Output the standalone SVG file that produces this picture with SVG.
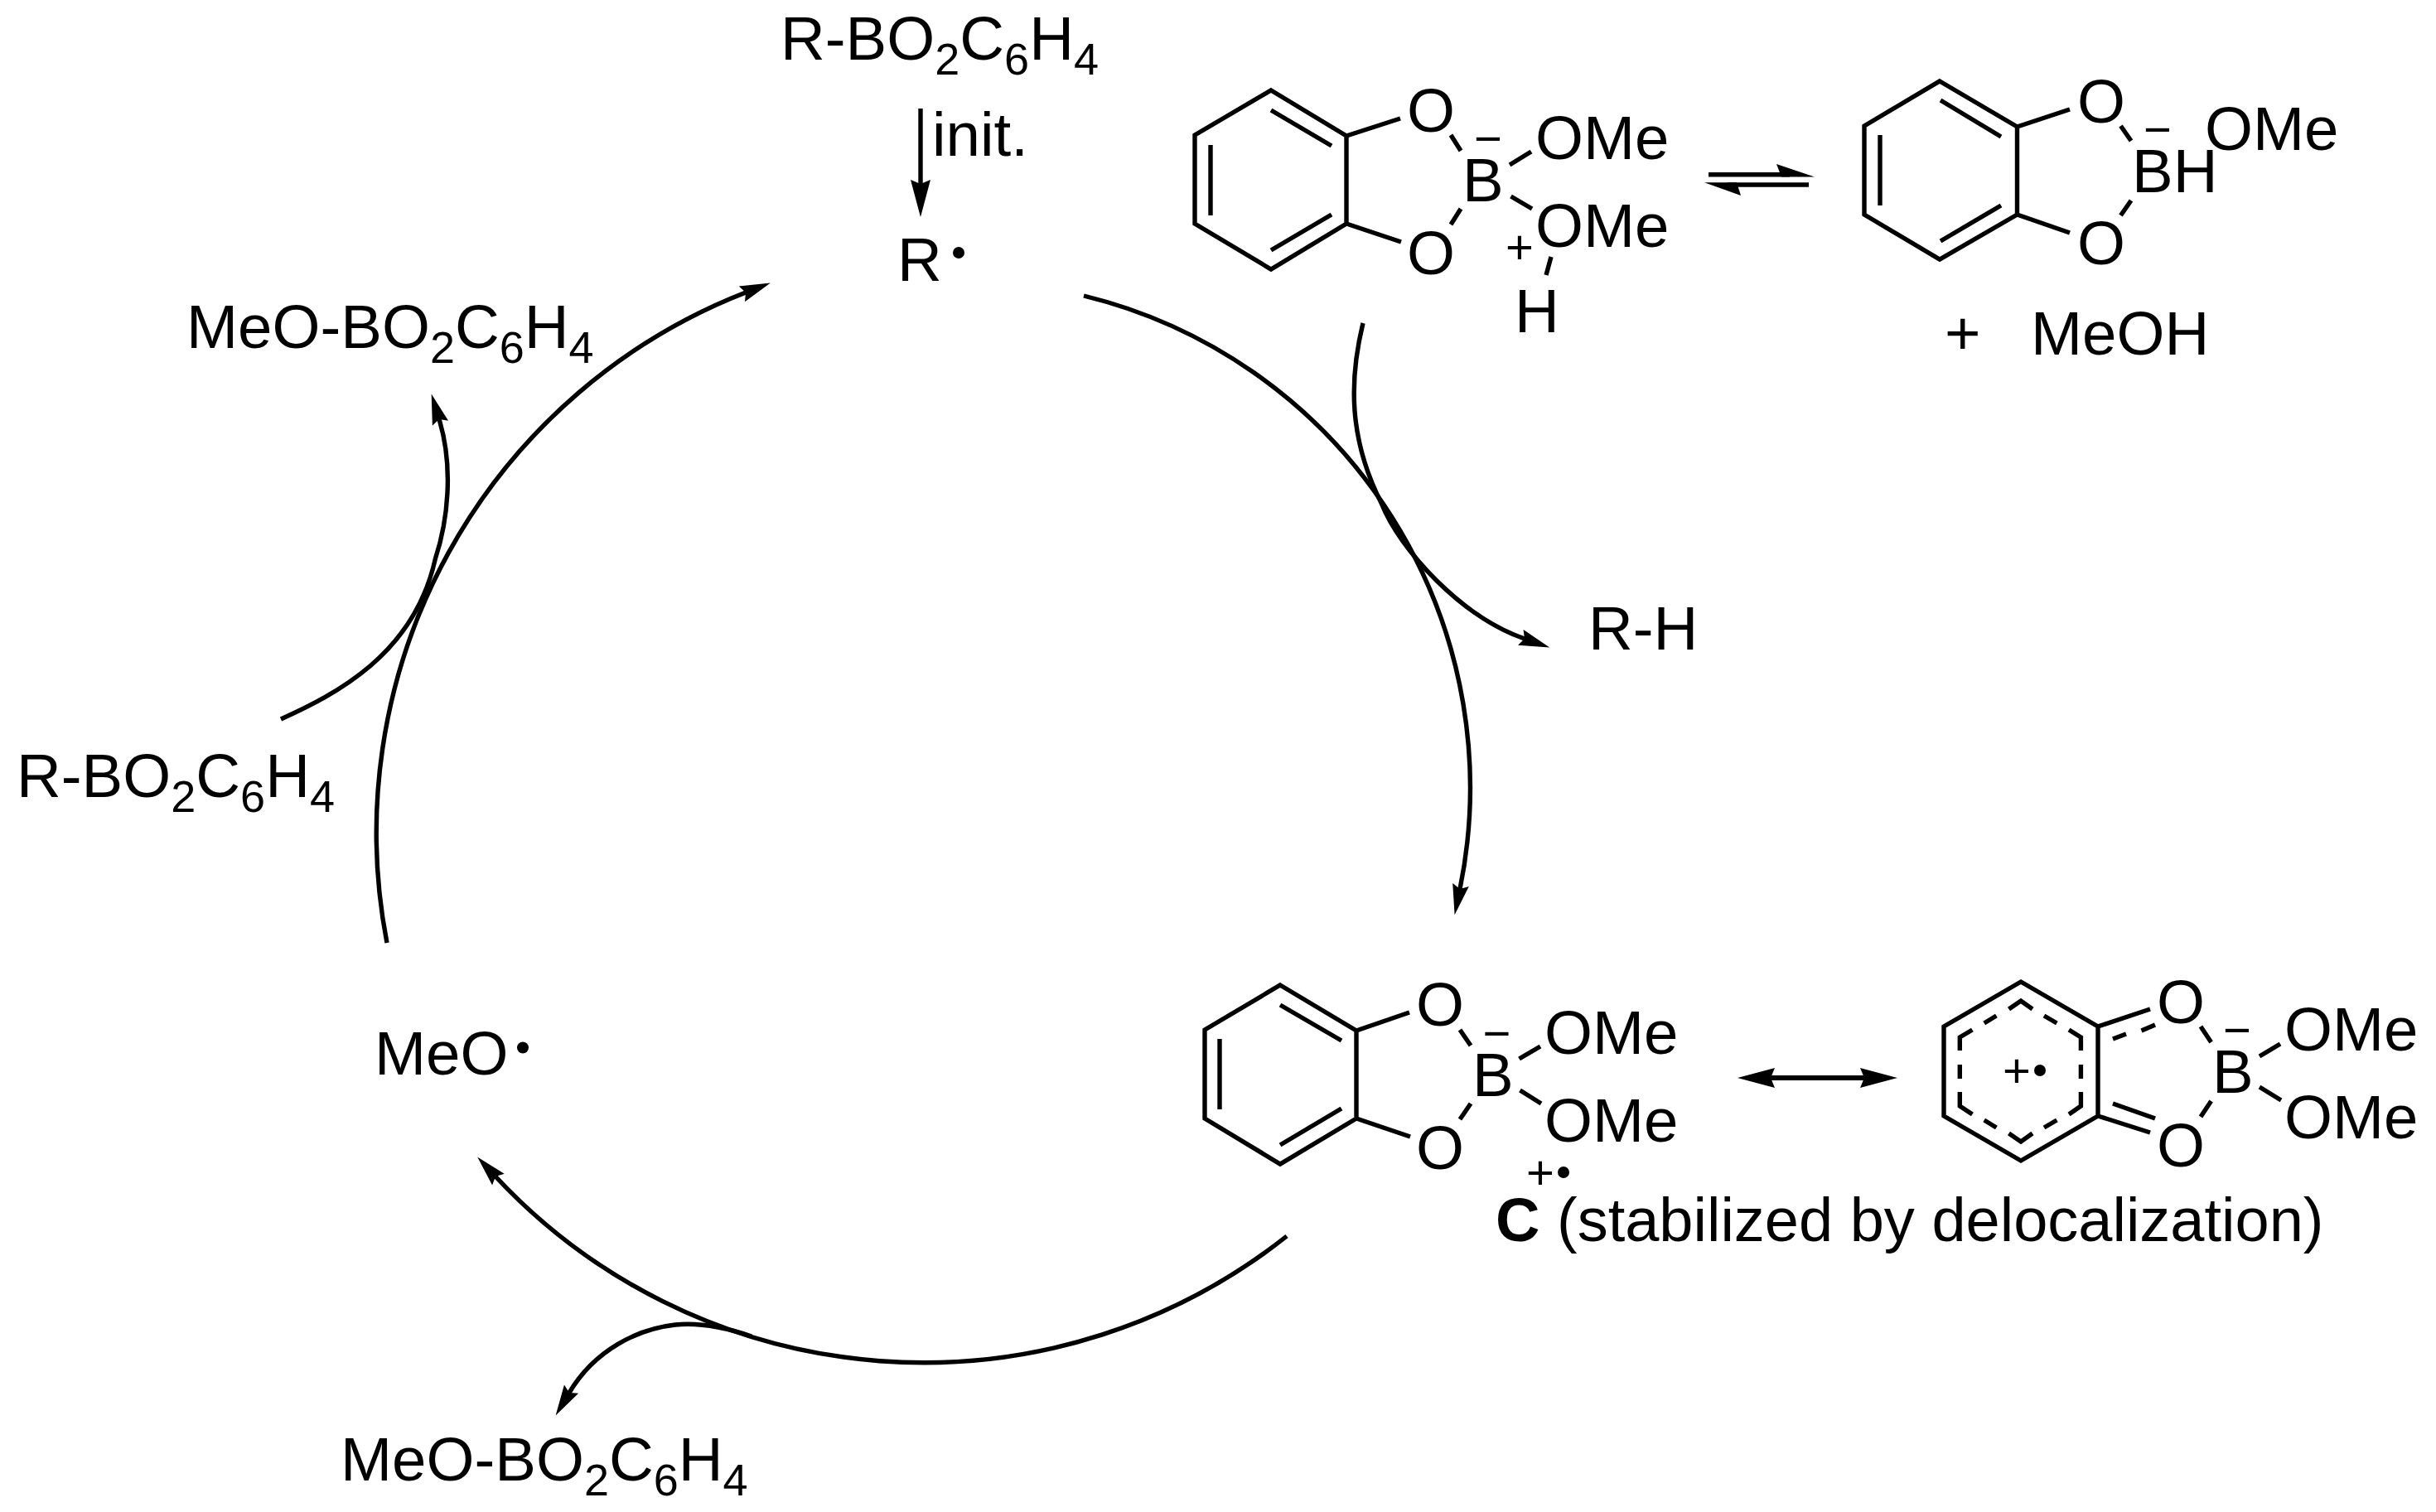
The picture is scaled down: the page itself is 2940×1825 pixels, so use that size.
<svg xmlns="http://www.w3.org/2000/svg" width="2940" height="1825" viewBox="0 0 2940 1825">
<style>
text{font-family:"Liberation Sans",Arial,sans-serif;font-size:74.5px;fill:#000}
.sub{font-size:54px}
.chg{font-size:58px;text-anchor:middle}
.b{fill:none;stroke:#000;stroke-width:5.4}
.c{fill:none;stroke:#000;stroke-width:5.4}
.big{marker-end:url(#headBig)}
.cur{marker-end:url(#headCur)}
.bold{font-weight:bold}
.lab{font-size:74px}
</style>
<defs>
<marker id="headBig" markerUnits="userSpaceOnUse" markerWidth="50" markerHeight="30" refX="5" refY="15" orient="auto-start-reverse" overflow="visible"><polygon points="0,3 5,15 0,27 45,15" fill="#000"/></marker>
<marker id="headCur" markerUnits="userSpaceOnUse" markerWidth="44" markerHeight="26" refX="5" refY="13" orient="auto" overflow="visible"><polygon points="0,3 5,13 0,23 37,13" fill="#000"/></marker>
</defs>
<rect width="2940" height="1825" fill="#fff"/>
<g id="connectors">
<path class="c big" d="M1111,131V222"/>
<path class="c" d="M2062,210.7H2160"/><polygon points="2144,198 2190,213.4 2150,213.4"/>
<path class="c" d="M2085,223H2183"/><polygon points="2101,236 2057,220.3 2096,220.3"/>
<path class="c" style="stroke-width:6;marker-start:url(#headBig);marker-end:url(#headBig)" d="M2137,1301H2250"/>
<path class="c cur" d="M1308,357A611,611 0 0 1 1762,1073"/>
<path class="c cur" d="M1645,390C1628,460 1628,530 1667,607C1690,665 1765,745 1840,771"/>
<path class="c cur" d="M1553,1492A706,706 0 0 1 598,1420"/>
<path class="c cur" d="M907,1613C875,1602 845,1596 815,1599C770,1604 718,1629 687,1681"/>
<path class="c cur" d="M467,1138A700,700 0 0 1 900,353"/>
<path class="c cur" d="M339,868C405,838 500,790 525.5,674C540,630 548,565 530,506"/>
</g>
<g id="r-bo2c6h4-top"><text x="942" y="72">R-BO<tspan class="sub" dy="17.5">2</tspan><tspan dy="-17.5">C</tspan><tspan class="sub" dy="17.5">6</tspan><tspan dy="-17.5">H</tspan><tspan class="sub" dy="17.5">4</tspan></text></g>
<g id="init"><text x="1125" y="188">init.</text></g>
<g id="r-radical"><text x="1083" y="339">R</text><circle cx="1157" cy="305" r="7"/></g>
<g id="meo-bo2c6h4-left"><text x="225" y="420">MeO-BO<tspan class="sub" dy="17.5">2</tspan><tspan dy="-17.5">C</tspan><tspan class="sub" dy="17.5">6</tspan><tspan dy="-17.5">H</tspan><tspan class="sub" dy="17.5">4</tspan></text></g>
<g id="r-bo2c6h4-left"><text x="20" y="962">R-BO<tspan class="sub" dy="17.5">2</tspan><tspan dy="-17.5">C</tspan><tspan class="sub" dy="17.5">6</tspan><tspan dy="-17.5">H</tspan><tspan class="sub" dy="17.5">4</tspan></text></g>
<g id="meo-radical"><text x="452" y="1297">MeO</text><circle cx="631" cy="1264.5" r="7"/></g>
<g id="meo-bo2c6h4-bottom"><text x="411" y="1787">MeO-BO<tspan class="sub" dy="17.5">2</tspan><tspan dy="-17.5">C</tspan><tspan class="sub" dy="17.5">6</tspan><tspan dy="-17.5">H</tspan><tspan class="sub" dy="17.5">4</tspan></text></g>
<g id="r-h"><text x="1917" y="784">R-H</text></g>
<g id="boronate-protonated">
<path class="b" d="M1534,109L1625,164V270L1534,325L1442,270V163ZM1534,133L1607,176M1534,302L1607,259M1461,175V260M1625,164L1690,143M1625,270L1691,292M1751,163L1763,182M1763,252L1751,271M1822,199L1848,183M1823.5,237L1849,252M1872,310L1866,332"/>
<text x="1698" y="159">O</text><text x="1698" y="331">O</text><text x="1765" y="243">B</text>
<text class="chg" x="1796" y="187">−</text>
<text x="1853" y="192">OMe</text><text x="1853" y="298">OMe</text>
<text class="chg" x="1834" y="318">+</text>
<text x="1828" y="401">H</text>
</g>
<g id="borohydride">
<path class="b" d="M2341,98L2434.5,153V259L2341,313L2250,259V152ZM2342,121L2415,165M2342,291L2415,248M2269,163V248M2434.5,153L2498,132M2434.5,259L2498,281M2559.5,152L2572,170M2572,242L2559.5,260"/>
<text x="2507" y="147.5">O</text><text x="2507" y="319">O</text><text x="2573" y="232">BH</text>
<text class="chg" x="2604" y="176">−</text>
<text x="2661" y="181">OMe</text>
</g>
<g id="methanol"><text x="2347" y="428">+</text><text x="2451" y="428">MeOH</text></g>
<g id="radical-cation-c">
<path class="b" d="M1545,1189L1637,1244V1350L1545,1405L1454,1350V1243ZM1545,1213L1619,1256M1545,1382L1619,1338M1472,1254V1339M1637,1244L1701,1222M1637,1350L1702,1372M1762,1243L1775,1262M1775,1332L1762,1351M1833.5,1278L1859,1263M1834.5,1316L1860,1332"/>
<text x="1709" y="1238">O</text><text x="1709" y="1411">O</text><text x="1777" y="1323">B</text>
<text class="chg" x="1806.5" y="1267">−</text>
<text x="1864" y="1272">OMe</text><text x="1864" y="1378">OMe</text>
<text class="chg" x="1859" y="1435">+</text><circle cx="1887" cy="1415" r="7"/>
</g>
<g id="label-c"><text class="lab" x="1805" y="1498"><tspan class="bold">C</tspan> (stabilized by delocalization)</text></g>
<g id="resonance-form">
<path class="b" d="M2439,1185L2532,1239V1347L2439,1401L2346,1347V1239ZM2532,1239L2595,1218M2532,1347L2595,1367M2550,1332L2601,1350M2550,1254L2566,1248M2584.5,1244L2601,1237M2656,1239L2668.6,1258M2668.6,1329L2656,1348M2727,1275L2752,1260M2727,1312L2753,1328"/>
<path class="b" d="M2424.5,1218L2439,1208L2453,1218M2467,1226L2482.4,1235M2497,1243L2511.4,1252V1268M2511.4,1285V1302M2511.4,1318V1335L2497,1345M2482.4,1352L2467,1361M2453,1368L2439,1378L2424.5,1368M2409.4,1361L2394.7,1352M2380.4,1345L2365.3,1335V1318M2365.3,1302V1285M2365.3,1268V1252L2380.4,1243M2394.7,1235L2409.4,1226"/>
<text x="2603" y="1235">O</text><text x="2603" y="1408">O</text><text x="2670" y="1319">B</text>
<text class="chg" x="2700" y="1263">−</text>
<text x="2757" y="1268">OMe</text><text x="2757" y="1374">OMe</text>
<text class="chg" x="2434" y="1312">+</text><circle cx="2462" cy="1292" r="7"/>
</g>
</svg>
